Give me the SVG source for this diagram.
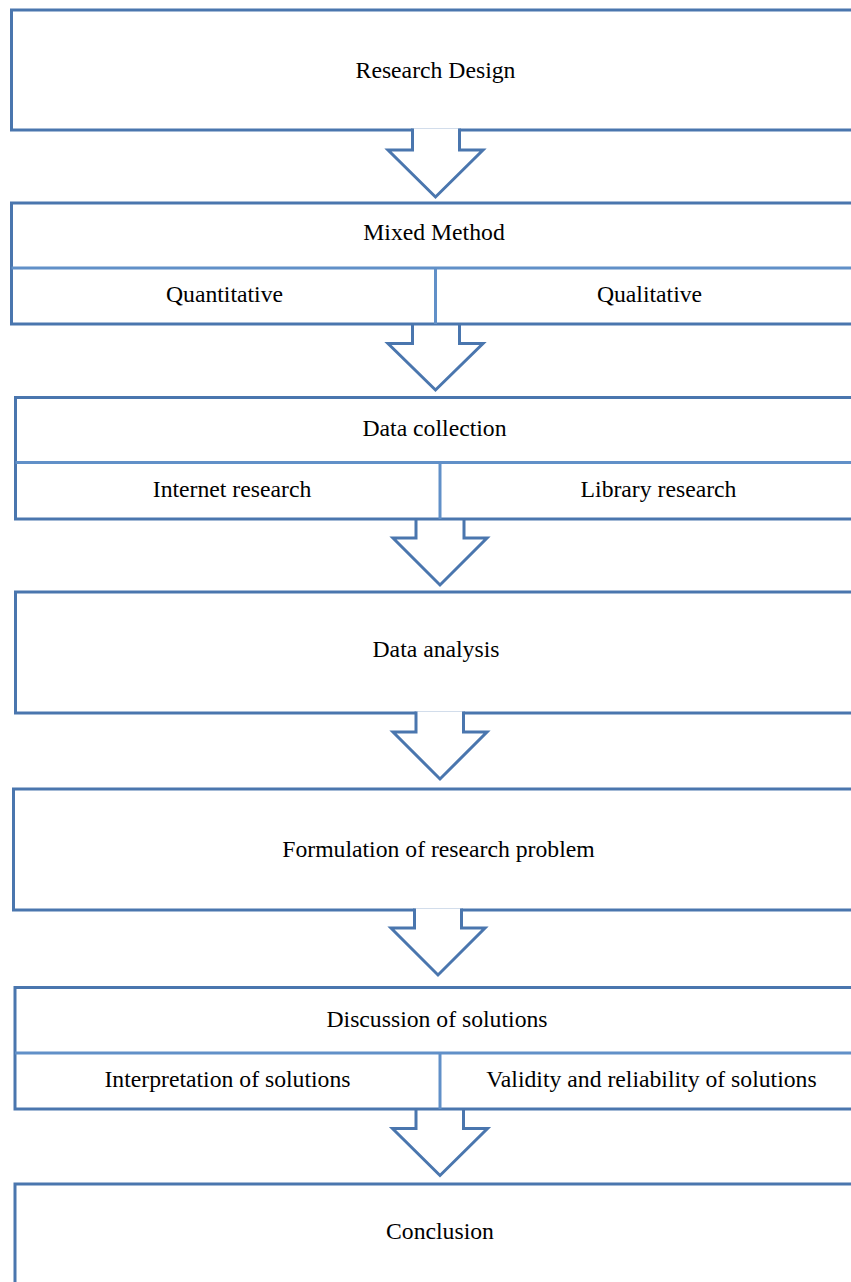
<svg xmlns="http://www.w3.org/2000/svg" width="851" height="1282" viewBox="0 0 851 1282">
<style>
.box{fill:#fff;stroke:#4a76ae;stroke-width:3}
.div{fill:none;stroke:#6190c8;stroke-width:3}
.arr{fill:#fff;stroke:#4a76ae;stroke-width:3;stroke-linejoin:miter}
text{font-family:"Liberation Serif","Times New Roman",serif;font-size:23.7px;fill:#000;text-anchor:middle}
</style>
<rect width="851" height="1282" fill="#fff"/>
<g id="n1"><rect class="box" x="11.5" y="10" width="860" height="120"/><text x="435.5" y="77.5">Research Design</text></g>
<g id="n4"><rect class="box" x="15.5" y="592" width="860" height="121"/><text x="436" y="657">Data analysis</text></g>
<g id="n5"><rect class="box" x="13.5" y="789" width="860" height="121"/><text x="438.5" y="857">Formulation of research problem</text></g>
<g id="n7"><rect class="box" x="15" y="1184" width="860" height="120"/><text x="440" y="1239">Conclusion</text></g>
<g id="connectors">
<path class="arr" d="M412.5,128.5 V150 H388 L435.5,197 L483,150 H459.5 V128.5"/>
<path class="arr" d="M412.5,324 V343.5 H388 L435.5,390 L483,343.5 H459.5 V324"/>
<path class="arr" d="M416,519 V538 H393 L440,585 L487,538 H464 V519"/>
<path class="arr" d="M416,711.5 V732 H393 L440,779 L487,732 H463.5 V711.5"/>
<path class="arr" d="M414.5,908.5 V928 H391 L438,975 L485,928 H461.5 V908.5"/>
<path class="arr" d="M416,1109 V1128.5 H392.5 L440,1175.5 L487.5,1128.5 H463.5 V1109"/>
</g>
<g id="n2"><rect class="box" x="11.5" y="203" width="860" height="121"/><line class="div" x1="11.5" y1="268" x2="860" y2="268"/><line class="div" x1="435.5" y1="268" x2="435.5" y2="324"/><text x="434" y="240">Mixed Method</text><text x="224.5" y="302">Quantitative</text><text x="649.5" y="302">Qualitative</text></g>
<g id="n3"><rect class="box" x="15.5" y="397.5" width="860" height="121.5"/><line class="div" x1="15.5" y1="462.5" x2="860" y2="462.5"/><line class="div" x1="440" y1="462.5" x2="440" y2="519"/><text x="434.5" y="436">Data collection</text><text x="232" y="497">Internet research</text><text x="658.5" y="497">Library research</text></g>
<g id="n6"><rect class="box" x="15" y="987.5" width="860" height="121.5"/><line class="div" x1="15" y1="1053" x2="860" y2="1053"/><line class="div" x1="440" y1="1053" x2="440" y2="1109"/><text x="437" y="1027">Discussion of solutions</text><text x="227.5" y="1087">Interpretation of solutions</text><text x="651.5" y="1087">Validity and reliability of solutions</text></g>
</svg>
